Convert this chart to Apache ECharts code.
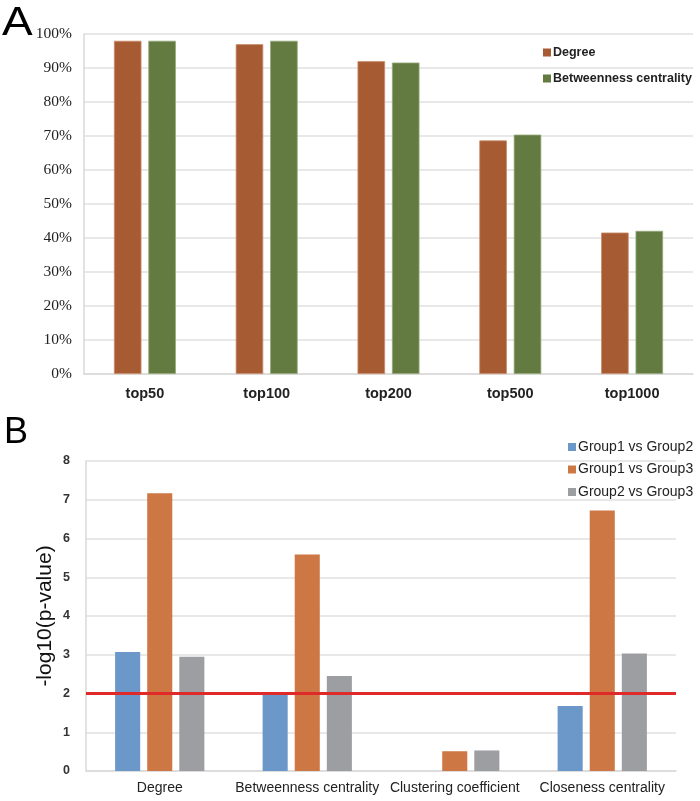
<!DOCTYPE html>
<html><head><meta charset="utf-8">
<script src="https://cdn.jsdelivr.net/npm/echarts@6/dist/echarts.min.js"></script>
<style>html,body{margin:0;padding:0;background:#fff}#c{width:700px;height:801px}</style>
</head><body><div id="c"></div>
<script>
var catsA = ['top50','top100','top200','top500','top1000'];
var degreeA = [98, 97, 92, 68.7, 41.6];
var betweenA = [98, 98, 91.6, 70.4, 42.1];
var ticksA = [0,10,20,30,40,50,60,70,80,90,100];

var catsB = ['Degree','Betweenness centrality','Clustering coefficient','Closeness centrality'];
var g12 = [3.07, 1.97, 0, 1.68];
var g13 = [7.17, 5.59, 0.51, 6.72];
var g23 = [2.95, 2.45, 0.53, 3.03];
var threshold = 2;

var chart = echarts.init(document.getElementById('c'));
var sans = 'Liberation Sans';
chart.setOption({
  animation:false,
  backgroundColor:'#fff',
  graphic:[
    {type:'text', left:2, top:3, scaleX:1.12, style:{text:'A', font:'41px "Liberation Sans"', fill:'#000'}},
    {type:'text', left:4, top:415, style:{text:'B', font:'36px "Liberation Sans"', fill:'#000'}}
  ],
  legend:[
    {data:['Degree','Betweenness centrality'], orient:'vertical', left:538, top:41, itemWidth:8, itemHeight:8, itemGap:13, icon:'rect',
     itemStyle:{borderWidth:0},
     textStyle:{fontFamily:sans, fontSize:12.5, fontWeight:'bold', color:'#222', padding:[0,0,0,-3]}},
    {data:['Group1 vs Group2','Group1 vs Group3','Group2 vs Group3'], orient:'vertical', left:563, top:435, itemWidth:8, itemHeight:8, itemGap:8.5, icon:'rect',
     itemStyle:{borderWidth:0},
     textStyle:{fontFamily:sans, fontSize:14, color:'#222', padding:[0,0,0,-3]}}
  ],
  grid:[
    {left:84, top:34, width:609, height:340},
    {left:86, top:461, width:590, height:310}
  ],
  xAxis:[
    {type:'category', gridIndex:0, data:catsA, axisTick:{show:false}, axisLine:{lineStyle:{color:'#d9d9d9', width:1.5}},
     axisLabel:{fontFamily:sans, fontSize:14.5, fontWeight:'bold', color:'#222', margin:12}},
    {type:'category', gridIndex:1, data:catsB, axisTick:{show:false}, axisLine:{lineStyle:{color:'#d9d9d9', width:1.5}},
     axisLabel:{fontFamily:sans, fontSize:14, color:'#222', margin:10, interval:0}}
  ],
  yAxis:[
    {type:'value', gridIndex:0, min:0, max:100, interval:10, axisLine:{show:true, lineStyle:{color:'#d9d9d9', width:1.5}}, axisTick:{show:false},
     splitLine:{lineStyle:{color:'#e0e0e0', width:1.5}},
     axisLabel:{fontFamily:'Liberation Serif', fontSize:15.5, color:'#222', margin:12, formatter:function(v){return v+'%';}}},
    {type:'value', gridIndex:1, min:0, max:8, interval:1, axisLine:{show:true, lineStyle:{color:'#d9d9d9', width:1.5}}, axisTick:{show:false},
     splitLine:{lineStyle:{color:'#e0e0e0', width:1.5}},
     name:'-log10(p-value)', nameLocation:'middle', nameGap:30, nameRotate:90, nameMoveOverlap:false,
     nameTextStyle:{fontFamily:sans, fontSize:21, color:'#111'},
     axisLabel:{fontFamily:sans, fontSize:12.5, fontWeight:'bold', color:'#333', margin:16}}
  ],
  series:[
    {name:'Degree', type:'bar', xAxisIndex:0, yAxisIndex:0, data:degreeA, barWidth:'22.6%', barGap:'25%',
     itemStyle:{color:'#a65b33', borderColor:'#c98a6a', borderWidth:0.8}},
    {name:'Betweenness centrality', type:'bar', xAxisIndex:0, yAxisIndex:0, data:betweenA, barWidth:'22.6%', barGap:'25%',
     itemStyle:{color:'#637b41', borderColor:'#93a877', borderWidth:0.8}},
    {name:'Group1 vs Group2', type:'bar', xAxisIndex:1, yAxisIndex:1, data:g12, barWidth:'17%', barGap:'28%',
     itemStyle:{color:'#6b97c9'}},
    {name:'Group1 vs Group3', type:'bar', xAxisIndex:1, yAxisIndex:1, data:g13, barWidth:'17%', barGap:'28%',
     itemStyle:{color:'#cd7844'},
     markLine:{silent:true, symbol:['none','none'], label:{show:false}, lineStyle:{color:'#e02a2a', width:3, type:'solid'},
       data:[{yAxis:threshold}]}},
    {name:'Group2 vs Group3', type:'bar', xAxisIndex:1, yAxisIndex:1, data:g23, barWidth:'17%', barGap:'28%',
     itemStyle:{color:'#9d9ea2'}}
  ]
});
</script></body></html>
